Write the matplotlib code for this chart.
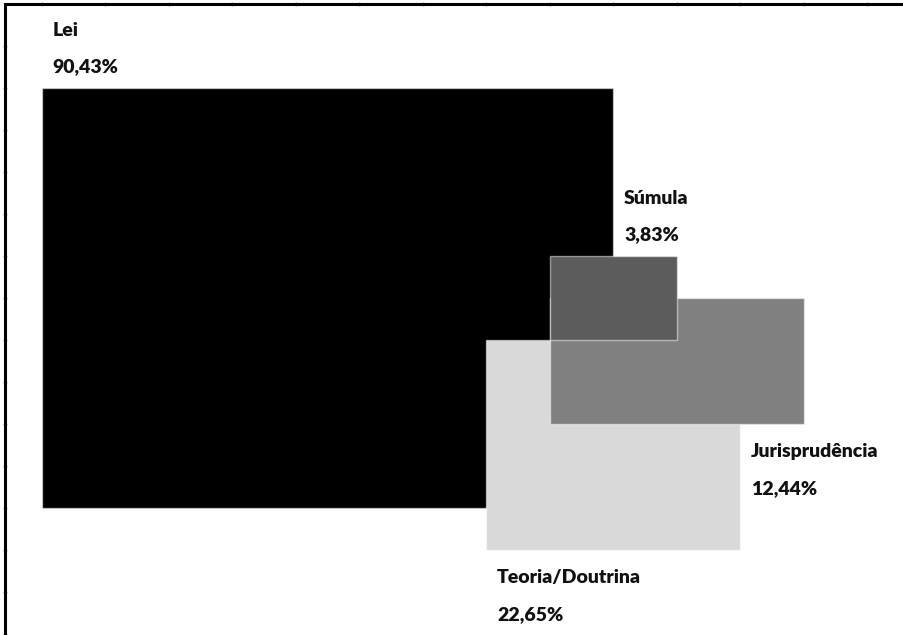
import matplotlib
matplotlib.use('Agg')
import matplotlib.pyplot as plt

# ========== Данные ==========
categories = ['Lei', 'Teoria/Doutrina', 'Jurisprudência', 'Súmula']
percent_labels = ['90,43%', '22,65%', '12,44%', '3,83%']
colors = ['#000000', '#d9d9d9', '#808080', '#5c5c5c']

# раскладка прямоугольников в клетках сетки (лево, верх, ширина, высота)
rect_left = [0, 7, 8, 8]
rect_top = [0, 6, 5, 4]
rect_width = [9, 4, 4, 2]
rect_height = [10, 5, 3, 2]

# положение подписей (x, базовая линия названия)
label_x = [0.17, 7.17, 11.17, 9.17]
label_y = [-1.24, 11.79, 8.79, 2.76]
value_gap = 0.87

# ========== Рисунок ==========
W, H = 904, 635
fig = plt.figure(figsize=(W / 100, H / 100), dpi=100)
ax = fig.add_axes([5 / W, 0, 1 - 5 / W, (H - 4) / H])

ax.bar(rect_left, rect_height, width=rect_width, bottom=rect_top, align='edge',
       color=colors, edgecolor=(1, 1, 1, 0.5), linewidth=1.0, zorder=3)

for name, val, x, y in zip(categories, percent_labels, label_x, label_y):
    ax.text(x, y, name, fontsize=14, fontweight='heavy', family='Lato',
            va='baseline', ha='left', color='#111111')
    ax.text(x, y + value_gap, val, fontsize=14, fontweight='heavy', family='Lato',
            va='baseline', ha='left', color='#111111')

ax.set_xlim(-0.583, 13.58)
ax.set_ylim(13.02, -2)
ax.set_xticks(range(0, 14))
ax.set_yticks(range(-1, 14))
ax.tick_params(length=3, width=1, color='#999999', direction='inout',
               labelbottom=False, labelleft=False, top=True, bottom=False)
ax.spines['right'].set_visible(False)
ax.spines['bottom'].set_visible(False)
for s in ('top', 'left'):
    ax.spines[s].set_linewidth(2.2)
    ax.spines[s].set_color('black')

fig.savefig('out.png', dpi=100)
